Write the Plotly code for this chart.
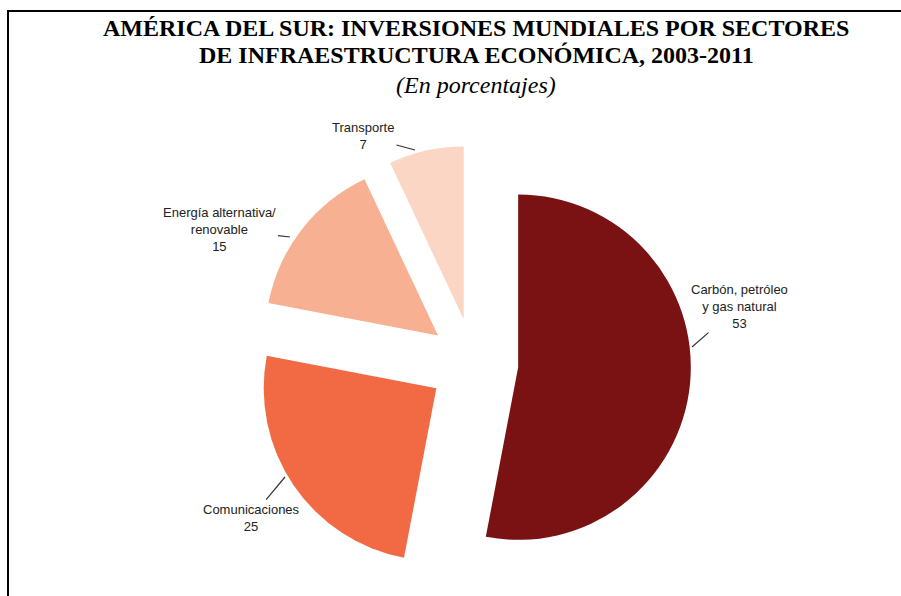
import plotly.graph_objects as go

# ---- data ----
sectors = ["Carbón, petróleo<br>y gas natural", "Comunicaciones",
           "Energía alternativa/<br>renovable", "Transporte"]
shares = [53, 25, 15, 7]
colors = ["#7A1214", "#F26A43", "#F7B091", "#FBD6C4"]

title_lines = ["AMÉRICA DEL SUR: INVERSIONES MUNDIALES POR SECTORES",
               "DE INFRAESTRUCTURA ECONÓMICA, 2003-2011"]
subtitle = "(En porcentajes)"

W, H = 901, 596

fig = go.Figure(go.Pie(
    labels=sectors, values=shares, sort=False, direction="clockwise",
    rotation=0, pull=[0.26] * len(shares),
    marker=dict(colors=colors, line=dict(width=0)),
    textinfo="none", hoverinfo="label+value",
    domain=dict(x=[0.284, 0.767], y=[0.026, 0.756]),
))

# label placement: (tip x, tip y, text offset ax, ay) in pixels
label_pos = [(692, 347, 47, -41), (285, 477, -34, 41),
             (290, 237, -71, -8), (415, 150, -52, -14)]

annotations = []
for lab, val, (tx, ty, ax, ay) in zip(sectors, shares, label_pos):
    annotations.append(dict(
        x=tx / W, y=1 - ty / H, xref="paper", yref="paper",
        text=f"{lab}<br>{val}", showarrow=True, arrowhead=0,
        arrowwidth=1.2, arrowcolor="#333333", ax=ax, ay=ay,
        axref="pixel", ayref="pixel", standoff=0, startstandoff=1,
        font=dict(family="Liberation Sans, Arial", size=13, color="#222222"),
        align="center"))

for txt, ypix in zip(title_lines, [28, 55]):
    annotations.append(dict(
        x=476 / W, y=1 - ypix / H, xref="paper", yref="paper",
        text=f"<b>{txt}</b>", showarrow=False, xanchor="center", yanchor="middle",
        font=dict(family="Liberation Serif, Times New Roman", size=24, color="#000000")))
annotations.append(dict(
    x=476 / W, y=1 - 85 / H, xref="paper", yref="paper",
    text=f"<i>{subtitle}</i>", showarrow=False, xanchor="center", yanchor="middle",
    font=dict(family="Liberation Serif, Times New Roman", size=24, color="#000000")))

fig.update_layout(
    width=W, height=H, margin=dict(l=0, r=0, t=0, b=0),
    paper_bgcolor="white", plot_bgcolor="white", showlegend=False,
    annotations=annotations,
    shapes=[dict(type="rect", xref="paper", yref="paper",
                 x0=8 / W, x1=1.05, y0=-0.05, y1=1 - 11 / H,
                 line=dict(color="#000000", width=2))],
)

fig.write_html("out.html", config={"displayModeBar": False},
               post_script="document.body.style.margin='0px';document.body.style.overflow='hidden';")
